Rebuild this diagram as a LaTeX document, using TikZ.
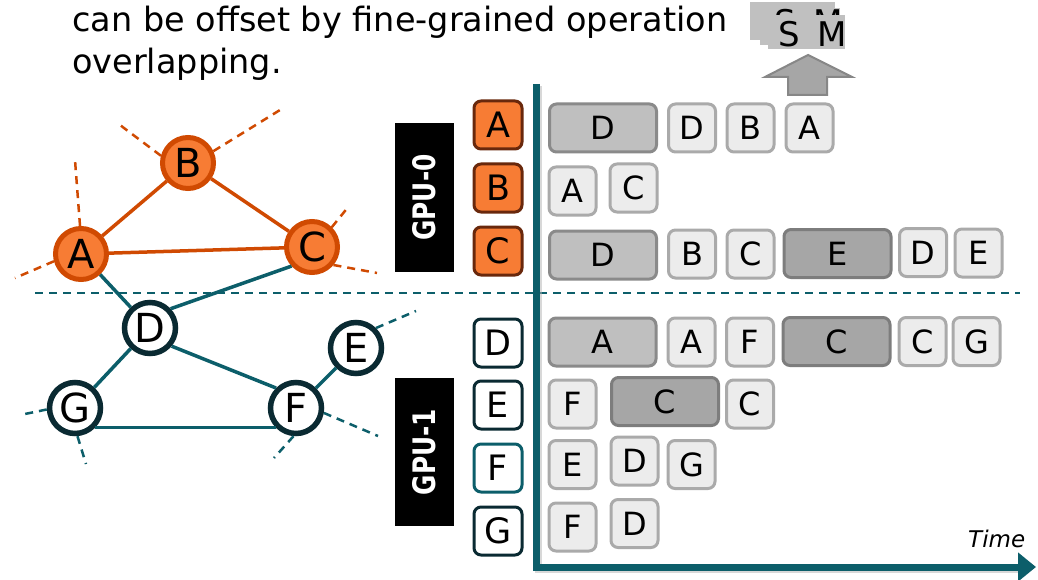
\documentclass[tikz,border=0pt]{standalone}
\usepackage{fontspec}
\setmainfont{DejaVu Sans}
\usepackage{graphicx}
\usetikzlibrary{arrows.meta,calc}

\definecolor{orfill}{RGB}{247,124,52}
\definecolor{oredge}{RGB}{208,74,2}
\definecolor{orbox}{RGB}{105,40,12}
\definecolor{tealline}{RGB}{12,94,106}
\definecolor{darkring}{RGB}{10,42,50}
\definecolor{lightfill}{RGB}{236,236,236}
\definecolor{lightedge}{RGB}{170,170,170}
\definecolor{midfill}{RGB}{191,191,191}
\definecolor{midedge}{RGB}{138,138,138}
\definecolor{darkfill}{RGB}{166,166,166}
\definecolor{darkedge}{RGB}{125,125,125}
\definecolor{smfill}{RGB}{192,192,192}
\definecolor{uparrow}{RGB}{166,166,166}
\definecolor{uparrowedge}{RGB}{135,135,135}

\newcommand\titlefont{\fontsize{33.5}{40}\selectfont}
\newcommand\circfont{\fontsize{40}{46}\selectfont}
\newcommand\keyfont{\fontsize{35}{40}\selectfont}
\newcommand\taskfont{\fontsize{32}{36}\selectfont}
\newcommand\smfont{\fontsize{34}{40}\selectfont}
\newcommand\gpufont{\fontsize{31}{36}\selectfont\bfseries}
\newcommand\timefont{\fontsize{23}{28}\selectfont\itshape}

\tikzset{
  onode/.style={circle, fill=orfill, draw=oredge, line width=5pt, minimum size=51pt, inner sep=0pt, font=\circfont},
  tnode/.style={circle, fill=white, draw=darkring, line width=5.5pt, minimum size=51pt, inner sep=0pt, font=\circfont},
  oedge/.style={draw=oredge, line width=3.5pt},
  tedge/.style={draw=tealline, line width=3.5pt},
  ostub/.style={draw=oredge, line width=2.5pt, dash pattern=on 8pt off 6pt},
  tstub/.style={draw=tealline, line width=2.5pt, dash pattern=on 8pt off 6pt},
  okey/.style={rectangle, rounded corners=7pt, fill=orfill, draw=orbox, line width=3pt, minimum width=48pt, minimum height=48pt, inner sep=0pt, font=\keyfont},
  tkey/.style={okey, fill=white, draw=darkring},
  task/.style={rectangle, rounded corners=7pt, fill=lightfill, draw=lightedge, line width=3pt, minimum width=47pt, minimum height=48pt, inner sep=0pt, font=\taskfont},
  longtask/.style={task, minimum width=107pt, fill=midfill, draw=midedge},
  longdark/.style={longtask, fill=darkfill, draw=darkedge},
  gpu/.style={rectangle, fill=black, text=white, rotate=90, inner sep=0pt, minimum height=59pt, font=\gpufont},
}

\begin{document}
\begin{tikzpicture}[x=1pt, y=-1pt]
\useasboundingbox (0,0) rectangle (1038,580);
\fill[white] (0,0) rectangle (1038,580);

% heading text
\node[anchor=base west, font=\titlefont, inner sep=0pt] (title1) at (72,32) {can be offset by fine-grained operation};
\node[anchor=base west, font=\titlefont, inner sep=0pt] (title2) at (72,74) {overlapping.};

% stacked S M cards
\fill[smfill] (750,2) rectangle (835,40);
\begin{scope}
  \clip (760,8) rectangle (840,15);
  \fill[smfill] (760,8) rectangle (840,45);
  \node[anchor=base west, font=\smfont, inner sep=0pt] (smback) at (774,35) {S\hspace{18pt}M};
\end{scope}
\fill[smfill] (760,15) rectangle (840,45);
\fill[smfill] (768,15) rectangle (845,49);
\node[anchor=base west, font=\smfont, inner sep=0pt] (smfront) at (778,47) {S\hspace{18pt}M};

% upward block arrow
\filldraw[fill=uparrow, draw=uparrowedge, line width=2pt, line join=miter]
  (788,95) -- (788,77) -- (765,77) -- (808,55) -- (852,77) -- (827,77) -- (827,95) -- cycle;

% partition line between the two GPUs
\coordinate (sepL) at (35,293);
\coordinate (sepR) at (1020,293);
\draw[tstub] (sepL) -- (sepR);

% graph vertices
\node[onode] (A) at (81,254) {A};
\node[onode] (B) at (188,163) {B};
\node[onode] (C) at (312,247) {C};
\node[tnode] (D) at (150,328) {D};
\node[tnode] (E) at (356,348) {E};
\node[tnode] (F) at (296,408) {F};
\node[tnode] (G) at (75,408) {G};

% graph edges
\draw[oedge] (A) -- (B);
\draw[oedge] (B) -- (C);
\draw[oedge] (A) -- (C);
\draw[tedge] (A) -- (D);
\draw[tedge] (C.-137) -- (D.43);
\draw[tedge] (D) -- (G);
\draw[tedge] (D.-40) -- (F.135);
\draw[tedge] (E) -- (F);
\draw[tedge] (G.-44) -- (F.-136);

% edges leaving the drawn part of the graph
\coordinate (a1) at (75,160);
\coordinate (a2) at (15,278);
\coordinate (b1) at (120,125);
\coordinate (b2) at (280,110);
\coordinate (c1) at (349,206);
\coordinate (c2) at (377,273);
\coordinate (e1) at (416,311);
\coordinate (g1) at (20,415);
\coordinate (g2) at (86,464);
\coordinate (f1) at (274,458);
\coordinate (f2) at (378,436);
\draw[ostub] (A.92) -- (a1);
\draw[ostub] (A.195) -- (a2);
\draw[ostub] (B.165) -- (b1);
\draw[ostub] (B.25) -- (b2);
\draw[ostub] (C.45) -- (c1);
\draw[ostub] (C.-40) -- (c2);
\draw[tstub] (E.45) -- (e1);
\draw[tstub] (G.183) -- (g1);
\draw[tstub] (G.-85) -- (g2);
\draw[tstub] (F.-95) -- (f1);
\draw[tstub] (F.-10) -- (f2);

% GPU labels
\node[gpu, minimum width=149pt] (gpu0) at (424.5,197.5) {\scalebox{0.8}[1]{GPU-0}};
\node[gpu, minimum width=148pt] (gpu1) at (424.5,452) {\scalebox{0.8}[1]{GPU-1}};

% vertex keys
\node[okey] (kA) at (498,125) {A};
\node[okey] (kB) at (498,188) {B};
\node[okey] (kC) at (498,251) {C};
\node[tkey] (kD) at (498,343) {D};
\node[tkey] (kE) at (498,405) {E};
\node[tkey, draw=tealline] (kF) at (498,468) {F};
\node[tkey] (kG) at (498,531) {G};

% time axis
\coordinate (ax0) at (536,84);
\coordinate (axc) at (536,567);
\coordinate (axe) at (1036,567);
\draw[black!30, line width=7pt, opacity=0.5]
  ($(ax0)+(2.5,2.5)$) -- ($(axc)+(2.5,2.5)$) -- ($(axe)+(-14,2.5)$);
\draw[tealline, line width=7pt, line join=miter, -{Triangle[length=18pt, width=28pt]}]
  (ax0) -- (axc) -- (axe);
\node[anchor=base west, font=\timefont, inner sep=0pt] (time) at (968,547) {Time};

% per-vertex task lanes
\node[longtask] (t1a) at (603,128) {D};
\node[task] (t1b) at (692,128) {D};
\node[task] (t1c) at (750.5,128) {B};
\node[task] (t1d) at (809.5,128) {A};

\node[task] (t2a) at (572.5,191) {A};
\node[task] (t2b) at (633.5,188) {C};

\node[longtask] (t3a) at (603,255) {D};
\node[task] (t3b) at (692,254) {B};
\node[task] (t3c) at (750.5,254) {C};
\node[longdark] (t3d) at (837.5,253.5) {E};
\node[task] (t3e) at (923,252.5) {D};
\node[task] (t3f) at (978.5,253) {E};

\node[longtask] (t4a) at (602.5,342) {A};
\node[task] (t4b) at (691.5,342) {A};
\node[task] (t4c) at (750,342) {F};
\node[longdark] (t4d) at (836.5,341.5) {C};
\node[task] (t4e) at (922.5,341.5) {C};
\node[task] (t4f) at (976.5,341.5) {G};

\node[task] (t5a) at (572.5,404) {F};
\node[longdark] (t5b) at (665,401.5) {C};
\node[task] (t5c) at (750,404) {C};

\node[task] (t6a) at (572.5,464.5) {E};
\node[task] (t6b) at (634.5,461) {D};
\node[task] (t6c) at (691.5,464.5) {G};

\node[task] (t7a) at (572.5,527) {F};
\node[task] (t7b) at (634.5,523.5) {D};
\end{tikzpicture}
\end{document}
